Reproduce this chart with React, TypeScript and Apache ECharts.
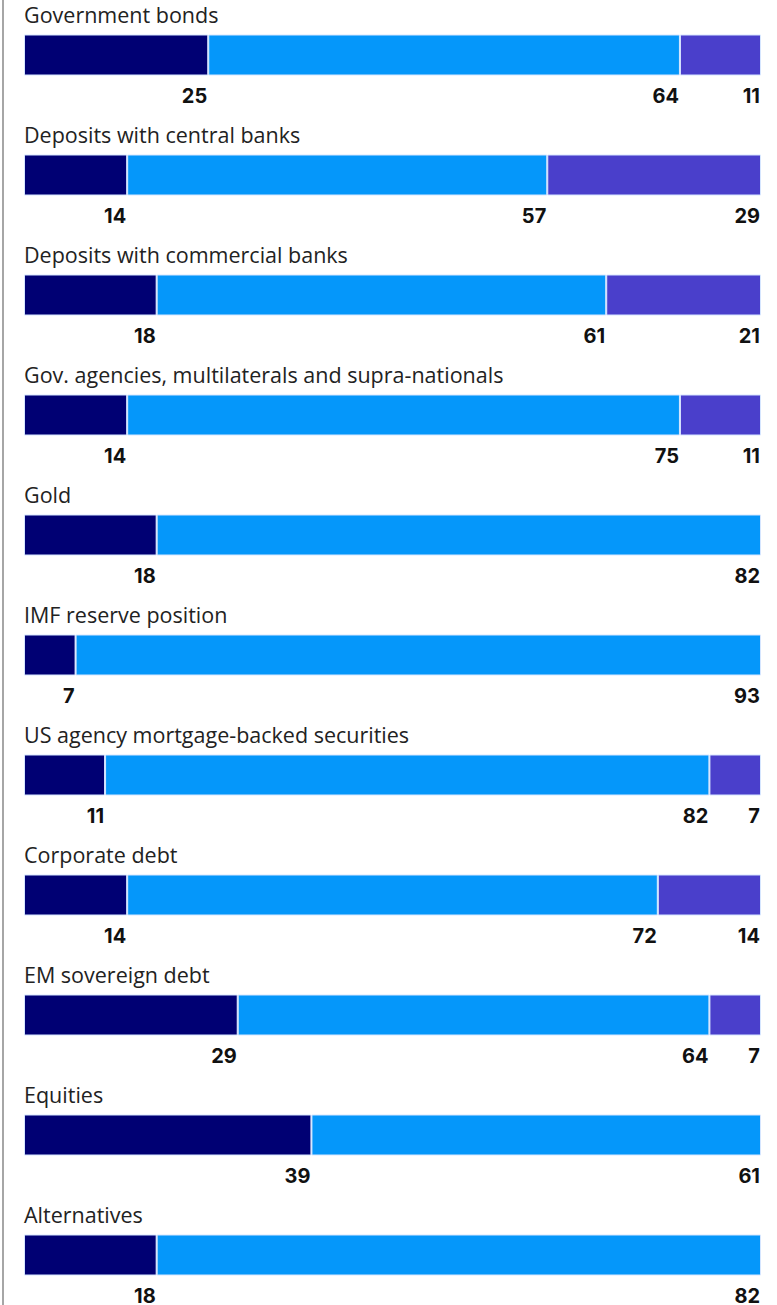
import React, { useEffect, useRef } from "react";
import * as echarts from "echarts";

const categories = [
  "Government bonds",
  "Deposits with central banks",
  "Deposits with commercial banks",
  "Gov. agencies, multilaterals and supra-nationals",
  "Gold",
  "IMF reserve position",
  "US agency mortgage-backed securities",
  "Corporate debt",
  "EM sovereign debt",
  "Equities",
  "Alternatives",
];
const navyValues = [25, 14, 18, 14, 18, 7, 11, 14, 29, 39, 18];
const blueValues = [64, 57, 61, 75, 82, 93, 82, 72, 64, 61, 82];
const purpleValues: (number | null)[] = [11, 29, 21, 11, null, null, 7, 14, 7, null, null];
const totalValues = [100, 100, 100, 100, 100, 100, 100, 100, 100, 100, 100];

export default function App() {
  const ref = useRef<HTMLDivElement>(null);
  useEffect(() => {
    document.body.style.margin = "0";
    const chart = echarts.init(ref.current!, null, { renderer: "svg" });
    const valueLabel = {
      show: true,
      position: ["100%", "100%"],
      align: "right",
      verticalAlign: "middle",
      offset: [-1, 20],
      fontFamily: "Inter",
      fontWeight: "bold",
      fontSize: 20,
      color: "#111",
      formatter: (p: any) => (p.value == null ? "" : String(p.value)),
    };
    const seg = (name: string, data: (number | null)[], color: string) => ({
      name,
      type: "bar",
      stack: "total",
      barWidth: 41,
      data,
      itemStyle: { color, borderColor: "#d6e6ff", borderWidth: 1 },
      label: valueLabel,
      z: 3,
    });
    chart.setOption({
      animation: false,
      grid: { left: 24, right: 16, top: 0, bottom: 0, containLabel: false },
      xAxis: {
        type: "value",
        min: 0,
        max: 100,
        show: false,
      },
      yAxis: {
        type: "category",
        data: categories,
        inverse: true,
        offset: 21.5,
        axisLine: { show: true, onZero: false, lineStyle: { color: "#888", width: 1.5 } },
        axisTick: { show: false },
        axisLabel: { show: false },
      },
      series: [
        {
          name: "title",
          type: "bar",
          barWidth: 41,
          barGap: "-100%",
          data: totalValues,
          silent: true,
          itemStyle: { color: "rgba(0,0,0,0)" },
          label: {
            show: true,
            position: [0, -20.5],
            align: "left",
            verticalAlign: "middle",
            fontFamily: "Open Sans",
            fontSize: 21.5,
            color: "#222",
            formatter: (p: any) => p.name,
          },
          z: 1,
        },
        seg("navy", navyValues, "#000073"),
        seg("blue", blueValues, "#0597FA"),
        seg("purple", purpleValues, "#4A3FCB"),
      ],
    });
    return () => chart.dispose();
  }, []);
  return (
    <div
      ref={ref}
      style={{ position: "absolute", left: 0, top: -5.5, width: 777, height: 1320 }}
    />
  );
}
